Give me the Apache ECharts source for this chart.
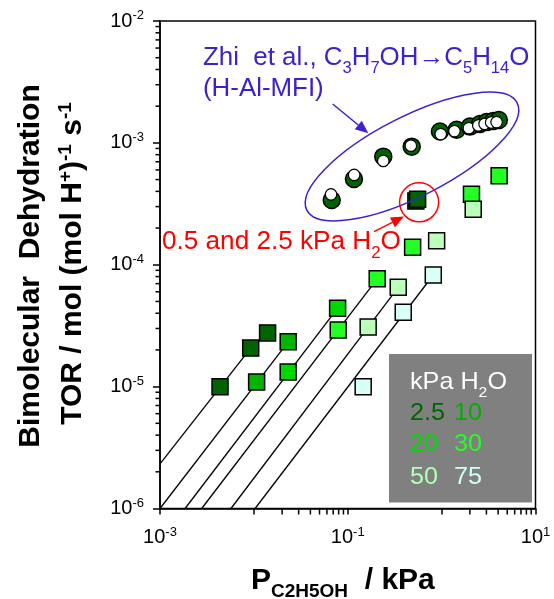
<!DOCTYPE html>
<html>
<head>
<meta charset="utf-8">
<script src="https://cdn.jsdelivr.net/npm/echarts@6/dist/echarts.min.js"></script>
<style>
  html, body { margin: 0; padding: 0; background: #fff; }
  #chart { width: 554px; height: 599px; }
</style>
</head>
<body>
<div id="chart"></div>
<script>
// Ethanol pressure (kPa) and bimolecular dehydration TOR, grouped by water pressure
const p0_5 = [0.532];
const tor0_5 = [3.33e-4];
const p2_5 = [0.00436, 0.00925, 0.0140, 0.555];
const tor2_5 = [1.0e-5, 2.07e-5, 2.76e-5, 3.44e-4];
const p10 = [0.0107, 0.0232];
const tor10 = [1.09e-5, 2.33e-5];
const p20 = [0.0232, 0.0780];
const tor20 = [1.32e-5, 4.40e-5];
const p30 = [0.0792, 0.206, 0.491, 2.08, 4.10];
const tor30 = [2.92e-5, 7.66e-5, 1.39e-4, 3.79e-4, 5.38e-4];
const p50 = [0.165, 0.345, 0.885, 2.17];
const tor50 = [3.09e-5, 6.53e-5, 1.57e-4, 2.85e-4];
const p75 = [0.146, 0.390, 0.815];
const tor75 = [1.0e-5, 4.07e-5, 8.24e-5];

// First-order guide lines: [start, end] for each water pressure
const fitP = [
  [0.001, 0.00925],
  [0.001, 0.0232],
  [0.00185, 0.0780],
  [0.00278, 0.206],
  [0.0057, 0.345],
  [0.0103, 0.815]
];
const fitTor = [
  [2.32e-6, 2.07e-5],
  [1.0e-6, 2.33e-5],
  [1.0e-6, 4.40e-5],
  [1.0e-6, 7.66e-5],
  [1.0e-6, 6.53e-5],
  [1.0e-6, 8.24e-5]
];

// Zhi et al. propanol -> dipropyl ether rates on H-Al-MFI (two data sets)
const zhiPFilled = [0.0675, 0.1164, 0.239, 0.480, 0.960, 1.445, 2.00, 2.56, 3.01, 3.55, 4.07];
const zhiTorFilled = [3.40e-4, 5.06e-4, 7.71e-4, 9.31e-4, 1.24e-3, 1.28e-3, 1.36e-3, 1.43e-3, 1.48e-3, 1.51e-3, 1.54e-3];
const zhiPOpen = [0.0664, 0.117, 0.239, 0.470, 0.978, 1.37, 1.95, 2.46, 2.87, 3.37, 3.85];
const zhiTorOpen = [3.78e-4, 5.46e-4, 7.11e-4, 9.48e-4, 1.18e-3, 1.25e-3, 1.32e-3, 1.39e-3, 1.43e-3, 1.47e-3, 1.48e-3];

// Axis ranges and minor tick multipliers
const xRange = [1e-3, 10];
const yRange = [1e-6, 1e-2];
const minorMult = [2, 3, 4, 5, 6, 7, 8, 9];
const xMinorDecades = [1e-2, 1];
const yMinorDecades = [1e-6, 1e-5, 1e-4, 1e-3];

const FONT = '"Liberation Sans", Arial, sans-serif';
const colors = {
  w0_5: '#005a00',
  w2_5: '#006400',
  w10: '#00b400',
  w20: '#00d800',
  w30: '#22ff22',
  w50: '#bbffbb',
  w75: '#d8fff8'
};

const zip = (xs, ys) => xs.map((x, i) => [x, ys[i]]);

function squareSeries(name, xs, ys, color) {
  return {
    name: name, type: 'scatter', data: zip(xs, ys), symbol: 'rect', symbolSize: 16,
    itemStyle: { color: color, borderColor: '#000', borderWidth: 1.5, opacity: 1 },
    z: 4, silent: true
  };
}

const lineSeries = fitP.map((xs, i) => ({
  type: 'line', data: zip(xs, fitTor[i]), showSymbol: false, symbol: 'none',
  lineStyle: { color: '#000', width: 1.3 }, z: 3, silent: true
}));

const supRich = {
  b: { fontFamily: FONT, fontSize: 20, color: '#000', lineHeight: 24 },
  s: { fontFamily: FONT, fontSize: 13, color: '#000', lineHeight: 14, verticalAlign: 'top' }
};

const chart = echarts.init(document.getElementById('chart'), null, { renderer: 'canvas' });

chart.setOption({
  animation: false,
  grid: {
    left: 160, right: 18.5, top: 21, bottom: 90.5,
    show: true, borderColor: '#000', borderWidth: 1.5, backgroundColor: 'transparent'
  },
  xAxis: {
    type: 'log', logBase: 10, min: xRange[0], max: xRange[1], splitNumber: 4,
    axisLine: { show: true, lineStyle: { color: '#000', width: 1.5 } },
    axisTick: { show: true, inside: false, length: 6, lineStyle: { color: '#000', width: 1.5 } },
    splitLine: { show: false },
    axisLabel: {
      margin: 17,
      formatter: function (v) {
        const e = Math.round(Math.log10(v));
        if (Math.abs(e) % 2 !== 1) return '';
        return '{b|10}{s|' + e + '}';
      },
      rich: supRich
    }
  },
  yAxis: {
    type: 'log', logBase: 10, min: yRange[0], max: yRange[1], splitNumber: 4,
    axisLine: { show: true, lineStyle: { color: '#000', width: 1.5 } },
    axisTick: { show: true, inside: false, length: 7, lineStyle: { color: '#000', width: 1.5 } },
    splitLine: { show: false },
    axisLabel: {
      margin: 16,
      formatter: function (v) {
        const e = Math.round(Math.log10(v));
        return '{b|10}{s|' + e + '}';
      },
      rich: supRich
    }
  },
  series: lineSeries.concat([
    squareSeries('0.5', p0_5, tor0_5, colors.w0_5),
    squareSeries('2.5', p2_5, tor2_5, colors.w2_5),
    squareSeries('10', p10, tor10, colors.w10),
    squareSeries('20', p20, tor20, colors.w20),
    squareSeries('30', p30, tor30, colors.w30),
    squareSeries('50', p50, tor50, colors.w50),
    squareSeries('75', p75, tor75, colors.w75),
    {
      name: 'Zhi filled', type: 'scatter', data: zip(zhiPFilled, zhiTorFilled), symbol: 'circle', symbolSize: 17,
      itemStyle: { color: '#006400', borderColor: '#000', borderWidth: 1.5, opacity: 1 }, z: 4, silent: true
    },
    {
      name: 'Zhi open', type: 'scatter', data: zip(zhiPOpen, zhiTorOpen), symbol: 'circle', symbolSize: 11.5,
      itemStyle: { color: '#fff', borderColor: '#000', borderWidth: 1.2, opacity: 1 }, z: 4, silent: true
    }
  ])
});

// Minor ticks placed through the axis scales
const minorTicks = [];
xMinorDecades.forEach(d => minorMult.forEach(m => {
  const px = chart.convertToPixel({ xAxisIndex: 0 }, d * m);
  const py = chart.convertToPixel({ yAxisIndex: 0 }, yRange[0]);
  minorTicks.push({ type: 'line', shape: { x1: px, y1: py, x2: px, y2: py + 6 }, style: { stroke: '#000', lineWidth: 1.5 }, silent: true, z: 10 });
}));
yMinorDecades.forEach(d => minorMult.forEach(m => {
  const px = chart.convertToPixel({ xAxisIndex: 0 }, xRange[0]);
  const py = chart.convertToPixel({ yAxisIndex: 0 }, d * m);
  minorTicks.push({ type: 'line', shape: { x1: px - 4.5, y1: py, x2: px, y2: py }, style: { stroke: '#000', lineWidth: 1.5 }, silent: true, z: 10 });
}));

// Annotations, legend box and axis titles
const BLUE = '#3a22cc';
const RED = '#ff0000';

function arrow(x1, y1, x2, y2, color, headLen, headW) {
  const ang = Math.atan2(y2 - y1, x2 - x1);
  const bx = x2 - headLen * Math.cos(ang), by = y2 - headLen * Math.sin(ang);
  const nx = -Math.sin(ang) * headW / 2, ny = Math.cos(ang) * headW / 2;
  return [
    { type: 'line', shape: { x1: x1, y1: y1, x2: bx, y2: by }, style: { stroke: color, lineWidth: 1.5 }, silent: true, z: 10 },
    { type: 'polygon', shape: { points: [[x2, y2], [bx + nx, by + ny], [bx - nx, by - ny]] }, style: { fill: color }, silent: true, z: 10 }
  ];
}

const circled = chart.convertToPixel({ gridIndex: 0 }, [p2_5[3], tor2_5[3]]);

const subRich = (size, color) => ({
  b: { fontFamily: FONT, fontSize: size, fill: color, lineHeight: size + 13 },
  d: { fontFamily: FONT, fontSize: Math.round(size * 0.62), fill: color, lineHeight: Math.round(size * 0.5), verticalAlign: 'bottom' }
});

function plainText(x, y, text, color) {
  return {
    type: 'text', x: x, y: y, scaleX: 1.05,
    style: { text: text, fontFamily: FONT, fontSize: 24, fill: color, textVerticalAlign: 'middle' },
    silent: true, z: 10
  };
}

const graphics = [
  // reference ellipse around the literature data
  {
    type: 'ellipse', x: 412, y: 156.5, rotation: 27 * Math.PI / 180,
    shape: { cx: 0, cy: 0, rx: 118, ry: 40 },
    style: { fill: 'none', stroke: BLUE, lineWidth: 1.5 }, silent: true, z: 9
  },
  {
    type: 'circle', shape: { cx: circled[0] + 1.5, cy: circled[1] + 3, r: 19.5 },
    style: { fill: 'none', stroke: RED, lineWidth: 1.5 }, silent: true, z: 9
  },
  {
    type: 'text', x: 203, y: 58, scaleX: 1.035,
    style: { text: '{b|Zhi  et al., C}{d|3}{b|H}{d|7}{b|OH→C}{d|5}{b|H}{d|14}{b|O}', rich: subRich(25, BLUE), textAlign: 'left', textVerticalAlign: 'middle' },
    silent: true, z: 10
  },
  {
    type: 'text', x: 203, y: 89, scaleX: 1.035,
    style: { text: '(H-Al-MFI)', fontFamily: FONT, fontSize: 25, fill: BLUE, textAlign: 'left', textVerticalAlign: 'middle' },
    silent: true, z: 10
  },
  {
    type: 'text', x: 162, y: 242.5, scaleX: 1.045,
    style: { text: '{b|0.5 and 2.5 kPa H}{d|2}{b|O}', rich: subRich(25, RED), textAlign: 'left', textVerticalAlign: 'middle' },
    silent: true, z: 10
  },
  // legend box
  { type: 'rect', shape: { x: 389, y: 354, width: 143, height: 148.5 }, style: { fill: '#808080' }, silent: true, z: 8 },
  {
    type: 'text', x: 410, y: 382, scaleX: 1.05,
    style: { text: '{b|kPa H}{d|2}{b|O}', rich: subRich(24, '#ffffff'), textAlign: 'left', textVerticalAlign: 'middle' },
    silent: true, z: 10
  },
  plainText(410, 413, '2.5', '#006400'),
  plainText(454, 413, '10', '#00b000'),
  plainText(410, 444, '20', '#00dd00'),
  plainText(454, 444, '30', '#22ff22'),
  plainText(410, 477, '50', '#b3ffb3'),
  plainText(454, 477, '75', '#ccfff6'),
  // axis titles
  {
    type: 'text', x: 251, y: 581,
    style: { text: '{b|P}{d|C2H5OH}{b|  / kPa}', rich: {
      b: { fontFamily: FONT, fontSize: 30, fontWeight: 'bold', fill: '#000', lineHeight: 40 },
      d: { fontFamily: FONT, fontSize: 19, fontWeight: 'bold', fill: '#000', lineHeight: 14, verticalAlign: 'bottom' }
    }, textAlign: 'left', textVerticalAlign: 'middle' },
    silent: true, z: 10
  },
  {
    type: 'text', x: 31, y: 266, rotation: Math.PI / 2,
    style: { text: 'Bimolecular  Dehydration', fontFamily: FONT, fontSize: 30, fontWeight: 'bold', fill: '#000', textAlign: 'center', textVerticalAlign: 'middle' },
    silent: true, z: 10
  },
  {
    type: 'text', x: 73, y: 263.5, rotation: Math.PI / 2,
    style: { text: '{b|TOR / mol (mol H}{u|+}{b|)}{u|-1}{b| s}{u|-1}', rich: {
      b: { fontFamily: FONT, fontSize: 30, fontWeight: 'bold', fill: '#000', lineHeight: 34 },
      u: { fontFamily: FONT, fontSize: 19, fontWeight: 'bold', fill: '#000', lineHeight: 18, verticalAlign: 'top' }
    }, textAlign: 'center', textVerticalAlign: 'middle' },
    silent: true, z: 10
  }
]
  .concat(minorTicks)
  .concat(arrow(332.7, 104, 368.3, 133.3, BLUE, 13, 11))
  .concat(arrow(374, 231.7, 404, 216.5, RED, 13, 11));

chart.setOption({ graphic: graphics });
</script>
</body>
</html>
